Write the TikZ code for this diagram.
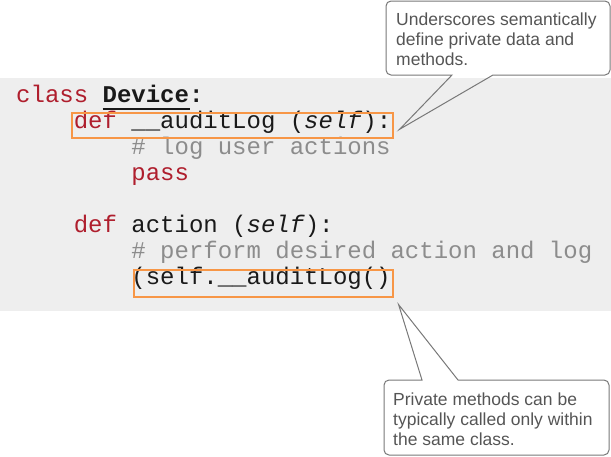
\documentclass[tikz,border=0pt]{standalone}
\usepackage{fontspec}
\setmainfont{Liberation Sans}
\setmonofont{Liberation Mono}
\definecolor{kw}{RGB}{175,30,45}
\definecolor{cmt}{RGB}{140,140,140}
\definecolor{codebg}{RGB}{238,238,238}
\definecolor{hl}{RGB}{247,150,70}
\definecolor{callborder}{RGB}{120,120,120}
\definecolor{calltext}{RGB}{85,85,85}
\definecolor{codetext}{RGB}{25,25,25}
\tikzset{
  codeline/.style={anchor=base west, inner sep=0pt, font=\ttfamily\fontsize{24}{26}\selectfont, text=codetext},
  hlbox/.style={draw=hl, line width=1.6pt, inner sep=0pt, anchor=north west},
  callout/.style={draw=callborder, line width=1pt, line join=miter},
  calltxt/.style={anchor=base west, inner sep=0pt, align=left, text=calltext, font=\fontsize{17.5}{20}\selectfont},
}
\newcommand{\kwd}[1]{\textcolor{kw}{#1}}
\newcommand{\cmtx}[1]{\textcolor{cmt}{#1}}
\begin{document}
\begin{tikzpicture}[x=1pt,y=-1pt]
\useasboundingbox (0,0) rectangle (611,456);
% code background
\fill[codebg] (0,78) rectangle (611,311);
% code lines
\node[codeline] (l1) at (16,102) {\kwd{class} \textbf{Device:}};
\draw[line width=2pt, codetext] (102.5,108.5) -- (189.5,108.5);
\node[codeline] (l2) at (73.6,128) {\kwd{def} \_\_auditLog (\textit{self}):};
\node[codeline] (l3) at (131.2,154) {\cmtx{\# log user actions}};
\node[codeline] (l4) at (131.2,180) {\kwd{pass}};
\node[codeline] (l6) at (73.6,232) {\kwd{def} action (\textit{self}):};
\node[codeline] (l7) at (131.2,258) {\cmtx{\# perform desired action and log}};
\node[codeline] (l8) at (131.2,284) {(self.\_\_auditLog()};
% highlight boxes
\node[hlbox, minimum width=321pt, minimum height=25pt] (hl1) at (71,112) {};
\node[hlbox, minimum width=259pt, minimum height=27pt] (hl2) at (133,269) {};
% callout pointer tips
\coordinate (tip1) at ([shift={(6,4)}]hl1.east);
\coordinate (tip2) at ([shift={(5,7)}]hl2.south east);
% top callout
\draw[callout] (452,75) -- (tip1) -- (493,75) [rounded corners=5pt] -- (610,75) -- (610,1) -- (386,1) -- (386,75) [sharp corners] -- cycle;
\node[calltxt] (c1) at (396,65) {Underscores semantically\\define private data and\\methods.};
% bottom callout
\draw[callout] (422,380) -- (tip2) -- (458,380) [rounded corners=5pt] -- (609,380) -- (609,455) -- (384,455) -- (384,380) [sharp corners] -- cycle;
\node[calltxt] (c2) at (393,445) {Private methods can be\\typically called only within\\the same class.};
\end{tikzpicture}
\end{document}
